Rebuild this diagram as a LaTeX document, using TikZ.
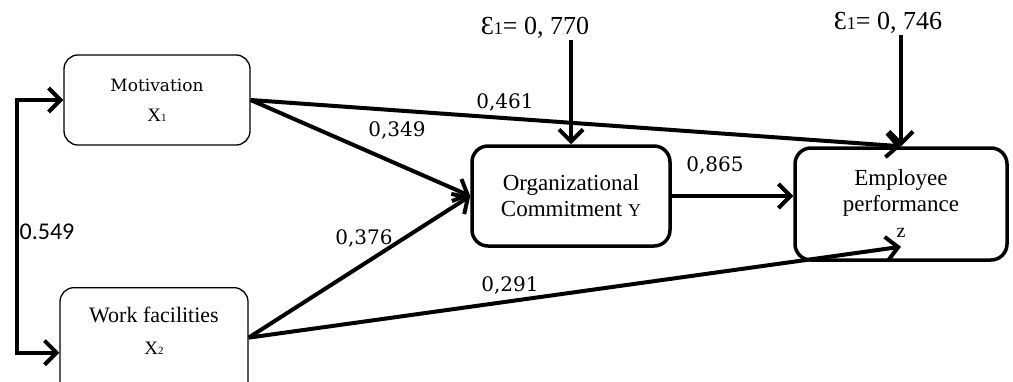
\documentclass[tikz,border=0pt]{standalone}
\usepackage{fontspec}
\setmainfont{Liberation Serif}
\newfontfamily\slabfont{DejaVu Serif}
\newfontfamily\calfont{Carlito}
\usetikzlibrary{arrows.meta}
\tikzset{
  varbox/.style={draw, line width=1.3pt, rounded corners=14pt, align=center},
  mainbox/.style={draw, line width=3.5pt, rounded corners=16pt, align=center,
    font=\fontsize{23}{26}\selectfont},
  link/.style={line width=4pt, -{Straight Barb[length=12pt,width=24pt]}},
  coef/.style={font=\slabfont\fontsize{20}{24}\selectfont, inner sep=0pt},
  errlbl/.style={font=\fontsize{26}{28}\selectfont, inner sep=1pt},
}
\begin{document}
\begin{tikzpicture}[x=1pt,y=-1pt]
\useasboundingbox (0,0) rectangle (1013,381);
\clip (0,0) rectangle (1013,381);

% exogenous variables
\node[varbox, minimum width=186pt, minimum height=90pt,
  font=\slabfont\fontsize{17}{30}\selectfont] (mot) at (157,100)
  {Motivation\\{\rmfamily\fontsize{19}{19}\selectfont X{\fontsize{11}{11}\selectfont 1}}};
\node[varbox, minimum width=188pt, minimum height=130pt, anchor=north] (work) at (154,287) {};
\node[font=\fontsize{22}{32}\selectfont, align=center] (worktext) at (154,331)
  {Work facilities\\{\fontsize{19}{19}\selectfont X{\fontsize{11}{11}\selectfont 2}}};

% intervening and endogenous
\node[mainbox, minimum width=198pt, minimum height=100pt] (org) at (571,196)
  {Organizational\\Commitment {\fontsize{18}{18}\selectfont Y}};
\node[mainbox, minimum width=212pt, minimum height=112pt] (emp) at (901,204)
  {Employee\\performance\\{\fontsize{20}{20}\selectfont z}};

% residuals
\node[errlbl] (e1) at (535,28) {Ɛ{\fontsize{18}{18}\selectfont 1}= 0, 770};
\node[errlbl] (e2) at (888,23) {Ɛ{\fontsize{18}{18}\selectfont 1}= 0, 746};

% coefficients
\node[coef] (c461) at (505,102) {0,461};
\node[coef] (c349) at (397,130) {0,349};
\node[coef] (c376) at (364,238) {0,376};
\node[coef] (c865) at (715,165) {0,865};
\node[coef] (c291) at (510,285) {0,291};
\node[font=\calfont\fontsize{24}{24}\selectfont, inner sep=0pt] (c549) at (47,232) {0.549};

\draw[link] (mot.east) -- (emp.north);
\draw[link] (mot.east) -- (org.west);
\draw[link] ([yshift=15pt]work.east) -- (org.west);
\draw[link] ([yshift=15pt]work.east) -- ([yshift=15pt]emp.south);
\draw[link] (org.east) -- (org.east -| emp.west);
\draw[link] (org.north |- e1.south) -- (org.north);
\draw[link] (emp.north |- e2.south) -- (emp.north);

% correlation
\coordinate (split) at (17,230);
\draw[link] (split) |- (mot.west);
\draw[link] (split) |- (work.west);
\end{tikzpicture}
\end{document}
